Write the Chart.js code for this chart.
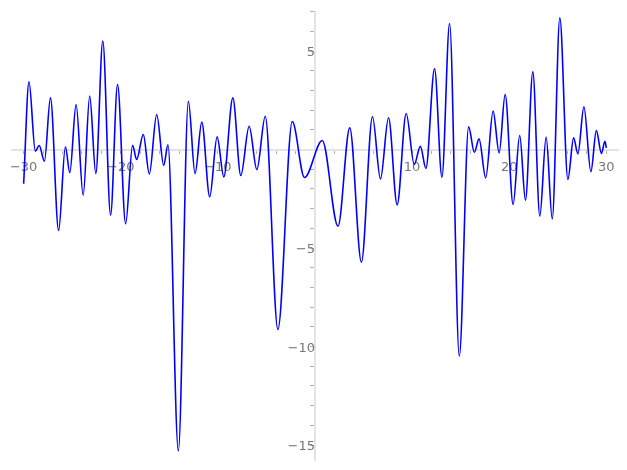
<!DOCTYPE html>
<html>
<head>
<meta charset="utf-8">
<script src="https://cdn.jsdelivr.net/npm/chart.js@4"></script>
<style>
  body { margin: 0; background: #fff; }
</style>
</head>
<body>
<canvas id="plot" width="627" height="470"></canvas>
<script>
// points (mostly its turning points)
var xs = [-30.0, -29.45, -28.8, -28.4, -27.86, -27.24, -26.4, -25.7, -25.25, -24.6,
  -23.87, -23.2, -22.57, -21.85, -21.05, -20.33, -19.5, -18.78, -18.37, -17.68,
  -17.06, -16.3, -15.58, -15.14, -14.07, -13.04, -12.35, -11.66, -10.84, -10.08,
  -9.39, -8.46, -7.64, -6.78, -5.99, -5.12, -3.82, -2.34, -1.08, 0.75,
  2.37, 3.58, 4.78, 5.92, 6.74, 7.57, 8.46, 9.39, 10.22, 10.85,
  11.42, 12.31, 13.07, 13.86, 14.86, 15.82, 16.41, 16.89, 17.58, 18.34,
  18.96, 19.58, 20.4, 21.08, 21.67, 22.43, 23.15, 23.8, 24.43, 25.21,
  26.04, 26.63, 27.07, 27.69, 28.41, 28.97, 29.5, 29.85, 30.0];
var ys = [-1.74, 3.44, -0.08, 0.2, -0.59, 2.62, -4.11, 0.14, -1.18, 2.28,
  -2.32, 2.71, -1.22, 5.5, -3.33, 3.3, -3.77, 0.22, -0.51, 0.76,
  -1.24, 1.78, -0.8, 0.24, -15.3, 2.45, -1.22, 1.39, -2.4, 0.64,
  -1.39, 2.62, -1.32, 1.18, -1.02, 1.69, -9.14, 1.42, -1.42, 0.46,
  -3.89, 1.1, -5.72, 1.66, -1.49, 1.61, -2.81, 1.83, -0.76, 0.16,
  -0.96, 4.1, -1.4, 6.4, -10.49, 1.15, -0.14, 0.54, -1.44, 1.95,
  -0.17, 2.79, -2.79, 0.71, -2.57, 3.94, -3.38, 0.63, -3.52, 6.68,
  -1.52, 0.59, -0.22, 2.17, -1.13, 0.96, -0.2, 0.42, 0.08];

var xTicks = [-30, -28, -26, -24, -22, -20, -18, -16, -14, -12, -10, -8, -6, -4, -2,
  0, 2, 4, 6, 8, 10, 12, 14, 16, 18, 20, 22, 24, 26, 28, 30];
var xLabels = [-30, -20, -10, 10, 20, 30];
var yTicks = [-15, -14, -13, -12, -11, -10, -9, -8, -7, -6, -5, -4, -3, -2, -1,
  0, 1, 2, 3, 4, 5, 6, 7];
var yLabels = [-15, -10, -5, 5];

function fmt(v) {
  return v < 0 ? '\u2212' + Math.abs(v) : String(v);
}

var points = xs.map(function(x, i) { return {x: x, y: ys[i]}; });

var axisFont = {family: 'DejaVu Sans', size: 13};

// axes sit inside the plot, so don't let their labels push the plot area in
function noLabelPadding(axis) {
  axis.paddingTop = 0;
  axis.paddingBottom = 0;
  axis.paddingLeft = 0;
  axis.paddingRight = 0;
}

var ctx = document.getElementById('plot').getContext('2d');
var myChart = new Chart(ctx, {
  type: 'line',
  data: {
    datasets: [{
      data: points,
      borderColor: '#0000ff',
      borderWidth: 1.6,
      pointRadius: 0,
      fill: false,
      cubicInterpolationMode: 'monotone'
    }]
  },
  options: {
    responsive: false,
    animation: false,
    layout: {padding: {left: 12, right: 9, top: 12, bottom: 10}},
    plugins: {legend: {display: false}, tooltip: {enabled: false}},
    scales: {
      x: {
        type: 'linear',
        min: -31.2,
        max: 31.2,
        position: {y: 0},
        border: {display: true, color: '#e3e3e3', width: 2},
        grid: {display: true, drawOnChartArea: false, drawTicks: true, tickLength: 3, tickColor: '#b0b0b0'},
        afterBuildTicks: function(axis) {
          axis.ticks = xTicks.map(function(v) { return {value: v}; });
        },
        afterFit: noLabelPadding,
        ticks: {
          color: '#777',
          font: axisFont,
          padding: 7,
          autoSkip: false,
          maxRotation: 0,
          callback: function(v) { return xLabels.indexOf(v) >= 0 ? fmt(v) : ''; }
        }
      },
      y: {
        type: 'linear',
        min: -15.76,
        max: 6.98,
        position: {x: 0},
        border: {display: true, color: '#e3e3e3', width: 2},
        grid: {display: true, drawOnChartArea: false, drawTicks: true, tickLength: 4, tickColor: '#b0b0b0'},
        afterBuildTicks: function(axis) {
          axis.ticks = yTicks.map(function(v) { return {value: v}; });
        },
        afterFit: noLabelPadding,
        ticks: {
          color: '#777',
          font: axisFont,
          padding: 6,
          labelOffset: 2,
          autoSkip: false,
          callback: function(v) { return yLabels.indexOf(v) >= 0 ? fmt(v) : ''; }
        }
      }
    }
  }
});
</script>
</body>
</html>
